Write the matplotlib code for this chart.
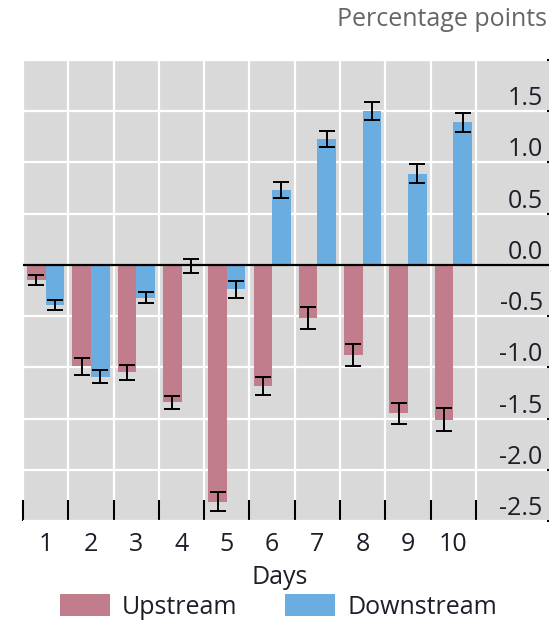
import matplotlib
matplotlib.use("Agg")
import matplotlib.pyplot as plt
import numpy as np
from matplotlib.patches import Patch

plt.rcParams["font.family"] = ["Open Sans", "DejaVu Sans"]

days = [1, 2, 3, 4, 5, 6, 7, 8, 9, 10]
upstream = [-0.15, -0.99, -1.05, -1.34, -2.31, -1.18, -0.52, -0.88, -1.45, -1.51]
upstream_err = [0.05, 0.08, 0.07, 0.065, 0.09, 0.09, 0.105, 0.105, 0.105, 0.115]
downstream = [-0.39, -1.09, -0.32, -0.01, -0.24, 0.73, 1.23, 1.50, 0.89, 1.39]
downstream_err = [0.05, 0.06, 0.055, 0.07, 0.08, 0.08, 0.08, 0.09, 0.095, 0.095]
y_ticks = [-2.5, -2.0, -1.5, -1.0, -0.5, 0.0, 0.5, 1.0, 1.5]

up_color = "#C27D8D"
down_color = "#6AADE0"
bg_color = "#D9D9D9"
text_color = "#1E1E2A"
fs = 18

fig = plt.figure(figsize=(5.57, 6.28), dpi=100)
ax = fig.add_axes([23 / 557, 1 - 521 / 628, 526 / 557, 461 / 628])
ax.set_facecolor(bg_color)

x = np.array(days, dtype=float)
w = 0.41
ax.bar(x - w / 2, upstream, width=w, color=up_color, zorder=3)
ax.bar(x + w / 2, downstream, width=w, color=down_color, zorder=3)
ebkw = dict(fmt="none", ecolor="black", elinewidth=1.4, capsize=6, capthick=1.4, zorder=4)
ax.errorbar(x - w / 2, upstream, yerr=upstream_err, **ebkw)
ax.errorbar(x + w / 2, downstream, yerr=downstream_err, **ebkw)

ax.axhline(0, color="black", lw=1.6, zorder=5)

ax.set_xlim(0.5, 0.5 + 526 / 45.3)
ax.set_ylim(-2.5, 2.0)

# category ticks: labels at the days, tick marks on the cell borders
ax.set_xticks(x)
ax.set_xticklabels([str(d) for d in days])
ax.set_xticks(np.arange(0.5, 11, 1.0), minor=True)
ax.tick_params(axis="x", which="major", length=0, pad=8, labelsize=fs, labelcolor=text_color)
ax.tick_params(axis="x", which="minor", direction="in", length=15, width=1.5, color="black")
ax.grid(True, axis="x", which="minor", color="white", lw=1.6, zorder=1)

ax.set_yticks(y_ticks + [2.0])
ax.set_yticklabels([f"{v:.1f}" for v in y_ticks] + [""])
ax.yaxis.tick_right()
ax.tick_params(axis="y", direction="in", length=1.5, width=1.5, color="black",
               labelsize=fs, labelcolor=text_color, pad=-4.5)
for lab in ax.get_yticklabels():
    lab.set_horizontalalignment("right")
    lab.set_verticalalignment("bottom")
ax.grid(True, axis="y", which="major", color="white", lw=1.6, zorder=1)
ax.set_axisbelow(True)

for s in ax.spines.values():
    s.set_visible(False)

fig.text(547 / 557, 1 - 20 / 628, "Percentage points", ha="right", va="center",
         fontsize=fs, color="#666666")
fig.text(0.502, 1 - 578 / 628, "Days", ha="center", va="center", fontsize=fs, color=text_color)

handles = [Patch(facecolor=up_color, label="Upstream"),
           Patch(facecolor=down_color, label="Downstream")]
fig.legend(handles=handles, loc="center", bbox_to_anchor=(0.5, 1 - 607 / 628), ncol=2,
           frameon=False, fontsize=fs, handlelength=2.0, handleheight=0.95,
           handletextpad=0.5, columnspacing=1.9, borderpad=0, labelcolor=text_color)

fig.savefig("out.png", dpi=100)
